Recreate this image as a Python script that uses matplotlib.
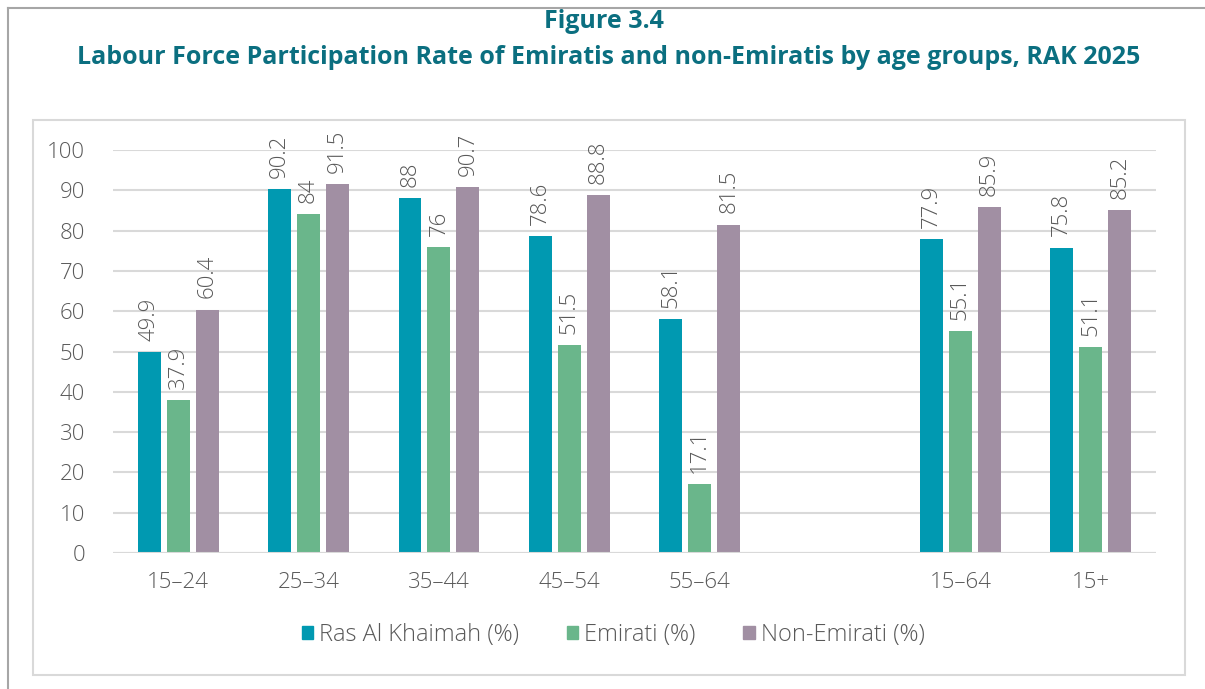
import matplotlib.pyplot as plt
import numpy as np
from matplotlib.patches import Rectangle
from matplotlib.lines import Line2D

plt.rcParams['font.family'] = ['Open Sans', 'DejaVu Sans']

# data
groups = ['15–24', '25–34', '35–44', '45–54', '55–64', '', '15–64', '15+']
rak = [49.9, 90.2, 88, 78.6, 58.1, None, 77.9, 75.8]
emirati = [37.9, 84, 76, 51.5, 17.1, None, 55.1, 51.1]
non_emirati = [60.4, 91.5, 90.7, 88.8, 81.5, None, 85.9, 85.2]
series_names = ['Ras Al Khaimah (%)', 'Emirati (%)', 'Non-Emirati (%)']
colors = ['#0099B1', '#6AB68B', '#A18FA3']
text_gray = '#595959'
title_color = '#0B6F80'

W, H = 1205, 689
fig = plt.figure(figsize=(W / 100, H / 100), dpi=100)

# outer frame (left + top)
fig.add_artist(Line2D([8 / W, 8 / W], [0, 1 - 8 / H], transform=fig.transFigure, color='#A6A6A6', lw=1.5))
fig.add_artist(Line2D([8 / W, 1], [1 - 8 / H, 1 - 8 / H], transform=fig.transFigure, color='#A6A6A6', lw=1.5))
# inner chart box
fig.add_artist(Rectangle((33 / W, 1 - 675 / H), (1185 - 33) / W, (675 - 120) / H,
                         transform=fig.transFigure, fill=False, ec='#D9D9D9', lw=1.5))

fig.text(604 / W, 1 - 22 / H, 'Figure 3.4', ha='center', va='center',
         fontsize=18, fontweight='bold', color=title_color)
fig.text(609 / W, 1 - 58 / H,
         'Labour Force Participation Rate of Emiratis and non-Emiratis by age groups, RAK 2025',
         ha='center', va='center', fontsize=18, fontweight='bold', color=title_color)

ax = fig.add_axes([113 / W, 1 - 553 / H, (1156 - 113) / W, (553 - 150) / H])

x = np.arange(len(groups))
bw = 0.176
step = 0.222
for i, (vals, c) in enumerate(zip([rak, emirati, non_emirati], colors)):
    for xi, v in zip(x, vals):
        if v is None:
            continue
        xp = xi + (i - 1) * step
        ax.bar(xp, v, width=bw, color=c, zorder=3)
        ax.annotate(f'{v:g}', (xp, v), xytext=(0, 8), textcoords='offset points',
                    rotation=90, ha='center', va='bottom',
                    fontsize=16, fontweight='light', color=text_gray)

ax.set_xlim(-0.5, len(groups) - 0.5)
ax.set_ylim(0, 100)
ax.set_yticks(range(0, 101, 10))
ax.set_xticks(x)
ax.set_xticklabels(groups)
ax.tick_params(length=0, labelsize=16, colors=text_gray)
ax.tick_params(axis='x', pad=14)
ax.tick_params(axis='y', pad=20)
for lab in ax.get_xticklabels() + ax.get_yticklabels():
    lab.set_fontweight('light')
ax.grid(axis='y', color='#D9D9D9', lw=1.5, zorder=0)
for s in ax.spines.values():
    s.set_visible(False)
ax.axhline(0, color='#D9D9D9', lw=1.5, zorder=4)

handles = [Rectangle((0, 0), 1, 1, color=c) for c in colors]
leg = fig.legend(handles, series_names, loc='center', bbox_to_anchor=(613 / W, 1 - 635 / H),
                 ncol=3, frameon=False, fontsize=17, labelcolor=text_gray,
                 handlelength=0.5, handleheight=0.5, handletextpad=0.25, columnspacing=2.0)
for t in leg.get_texts():
    t.set_fontweight('light')

fig.savefig('out.png', dpi=100)
